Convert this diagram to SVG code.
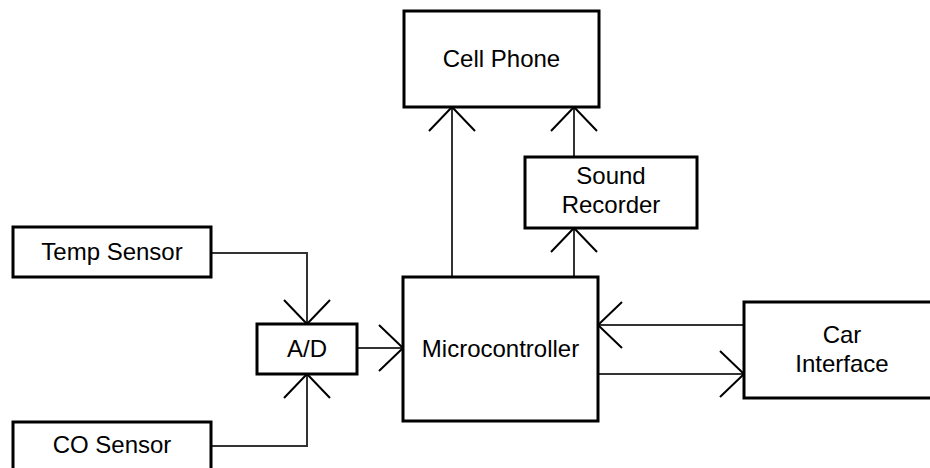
<svg xmlns="http://www.w3.org/2000/svg" width="930" height="468" viewBox="0 0 930 468">
<style>
.box{fill:#fff;stroke:#000;stroke-width:3}
.lbl{font-family:"Liberation Sans",Arial,sans-serif;font-size:24px;fill:#000;text-anchor:middle}
.con{fill:none;stroke:#333;stroke-width:2}
</style>
<defs>
<marker id="arr" markerUnits="userSpaceOnUse" viewBox="-26 -26 28 52" markerWidth="28" markerHeight="52" refX="0" refY="0" orient="auto" overflow="visible">
<path d="M-24,-23 L0,0 L-24,23" fill="none" stroke="#000" stroke-width="2"/>
</marker>
</defs>
<rect width="930" height="468" fill="#fff"/>
<g id="connectors">
<path class="con" d="M211,253 H307 V324" marker-end="url(#arr)"/>
<path class="con" d="M211,446 H307 V374" marker-end="url(#arr)"/>
<path class="con" d="M357,348 H403" marker-end="url(#arr)"/>
<path class="con" d="M452,277 V107" marker-end="url(#arr)"/>
<path class="con" d="M574,277 V228" marker-end="url(#arr)"/>
<path class="con" d="M574,157 V107" marker-end="url(#arr)"/>
<path class="con" d="M744,325 H598" marker-end="url(#arr)"/>
<path class="con" d="M598,374 H744" marker-end="url(#arr)"/>
</g>
<g id="cell-phone">
<rect class="box" x="404" y="11" width="195" height="96"/>
<text class="lbl" x="501.5" y="67">Cell Phone</text>
</g>
<g id="sound-recorder">
<rect class="box" x="525" y="157" width="172" height="71"/>
<text class="lbl" x="611" y="184">Sound</text>
<text class="lbl" x="611" y="213">Recorder</text>
</g>
<g id="temp-sensor">
<rect class="box" x="13" y="227" width="198" height="50"/>
<text class="lbl" x="112" y="260">Temp Sensor</text>
</g>
<g id="ad">
<rect class="box" x="257" y="324" width="100" height="50"/>
<text class="lbl" x="307" y="357">A/D</text>
</g>
<g id="microcontroller">
<rect class="box" x="403" y="277" width="195" height="144"/>
<text class="lbl" x="500.5" y="357">Microcontroller</text>
</g>
<g id="car-interface">
<rect class="box" x="744" y="302" width="196" height="96"/>
<text class="lbl" x="842" y="343">Car</text>
<text class="lbl" x="842" y="372">Interface</text>
</g>
<g id="co-sensor">
<rect class="box" x="13" y="422" width="198" height="60"/>
<text class="lbl" x="112" y="453">CO Sensor</text>
</g>
</svg>
